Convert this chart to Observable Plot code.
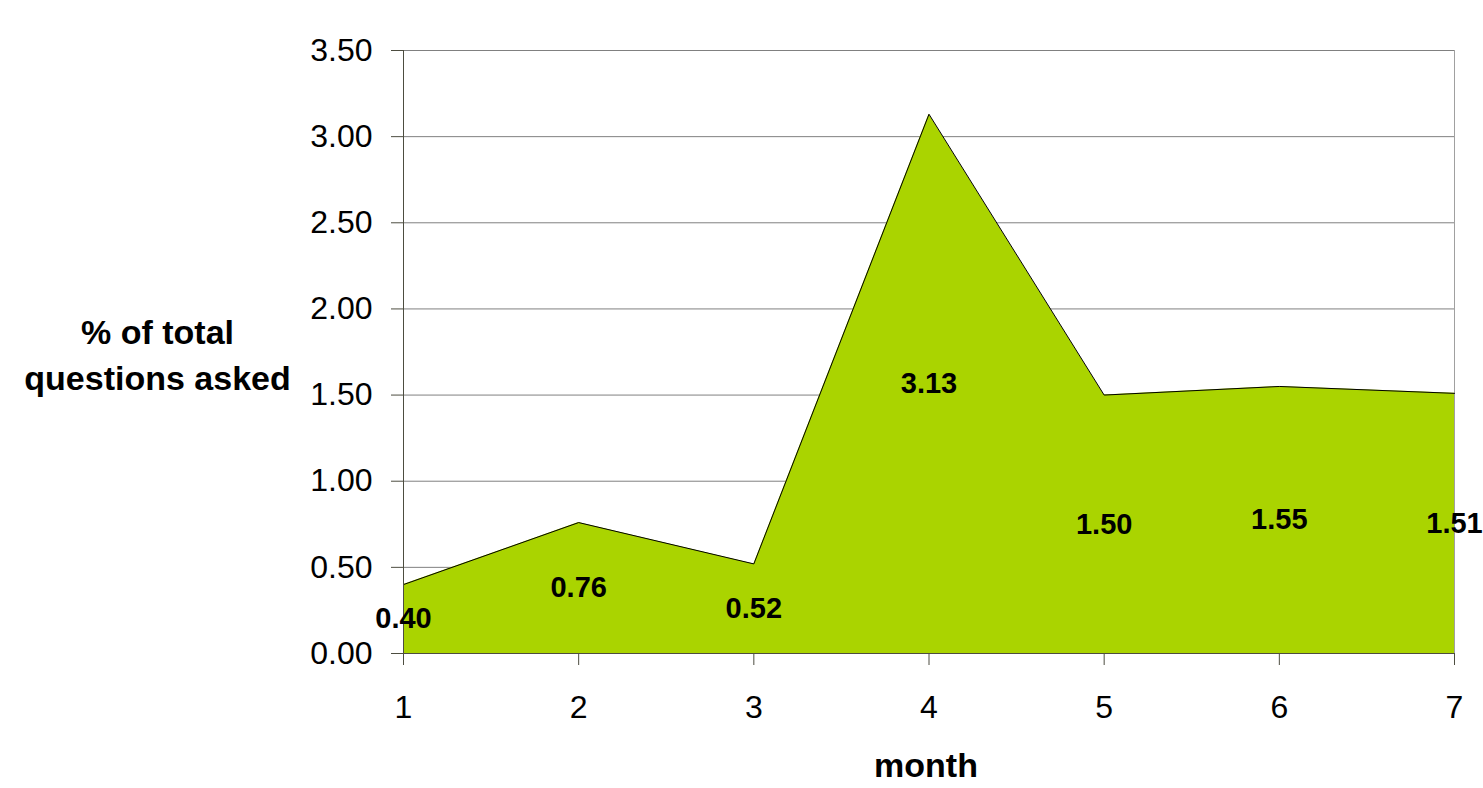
<!DOCTYPE html>
<html>
<head>
<meta charset="utf-8">
<script src="https://cdn.jsdelivr.net/npm/d3@7"></script>
<script src="https://cdn.jsdelivr.net/npm/@observablehq/plot@0.6"></script>
<style>
  html, body { margin: 0; padding: 0; background: #ffffff; }
  #chart svg { display: block; }
</style>
</head>
<body>
<div id="chart"></div>
<script>
// Share of all questions asked, by month
const months = [1, 2, 3, 4, 5, 6, 7];
const shares = [0.40, 0.76, 0.52, 3.13, 1.50, 1.55, 1.51];
const yTicks = [0, 0.5, 1, 1.5, 2, 2.5, 3, 3.5];
const yTitle = "% of total\nquestions asked";
const xTitle = "month";

const data = months.map((m, i) => ({month: m, share: shares[i]}));

const axisColor = "#4d4d40";
const gridColor = "#808080";
const fillColor = "#aad400";

const chart = Plot.plot({
  width: 1483,
  height: 788,
  marginLeft: 403,
  marginRight: 29,
  marginTop: 50,
  marginBottom: 135,
  x: {domain: [1, 7]},
  y: {domain: [0, 3.5]},
  style: {
    fontFamily: "Arial, 'Liberation Sans', sans-serif",
    fontSize: "32px",
    color: "#000000",
    background: "#ffffff"
  },
  marks: [
    Plot.gridY(yTicks, {stroke: gridColor, strokeOpacity: 1}),
    Plot.ruleX([7], {stroke: "#a0a0a0"}),
    Plot.areaY(data, {x: "month", y: "share", fill: fillColor}),
    Plot.lineY(data, {x: "month", y: "share", stroke: "#000000", strokeWidth: 1}),
    Plot.axisY(yTicks, {
      tickFormat: d3.format(".2f"),
      tickSize: 12,
      tickPadding: 19,
      stroke: axisColor,
      label: null
    }),
    Plot.axisX(months, {
      tickFormat: d => String(d),
      tickSize: 12,
      tickPadding: 30,
      stroke: axisColor,
      label: null
    }),
    Plot.ruleX([1], {stroke: axisColor}),
    Plot.ruleY([0], {stroke: axisColor}),
    Plot.text(data, {
      x: "month",
      y: d => d.share / 2,
      text: d => d.share.toFixed(2),
      fontWeight: "bold",
      fontSize: 29,
      fill: "#000000"
    }),
    Plot.text([yTitle], {
      frameAnchor: "left",
      textAnchor: "middle",
      lineAnchor: "middle",
      dx: -246,
      fontWeight: "bold",
      fontSize: 34,
      lineHeight: 1.36,
      fill: "#000000"
    }),
    Plot.text([xTitle], {
      frameAnchor: "bottom",
      textAnchor: "middle",
      lineAnchor: "middle",
      dx: -3,
      dy: 113,
      fontWeight: "bold",
      fontSize: 34,
      fill: "#000000"
    })
  ]
});

document.getElementById("chart").appendChild(chart);
</script>
</body>
</html>
